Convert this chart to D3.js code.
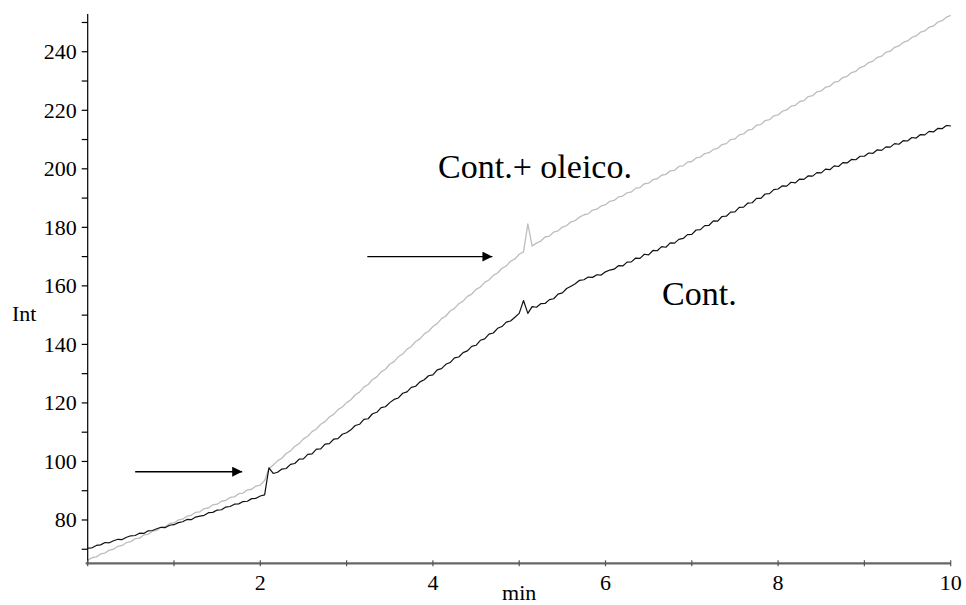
<!DOCTYPE html>
<html>
<head>
<meta charset="utf-8">
<script src="https://cdn.jsdelivr.net/npm/d3@7"></script>
<style>
  html, body { margin: 0; padding: 0; background: #fff; }
  svg { display: block; }
</style>
</head>
<body>
<svg id="chart" width="966" height="605"></svg>
<script>
// Signal traces sampled every 0.05 min from 0 to 10 min
const sampleStep = 0.05;

// "Cont." trace (black)
const cont = [
  70.4, 70.5, 71.3, 71.5, 72.3, 72.2, 72.9, 73.4, 73.3, 74.1, 74.6, 74.7, 75.5, 75.4, 76.3, 76.4, 77.0, 77.5, 77.4, 78.2, 78.4,
  79.1, 79.4, 80.2, 80.1, 81.0, 81.3, 81.6, 82.5, 82.6, 83.4, 83.5, 84.4, 84.6, 85.4, 85.5, 86.3, 86.4, 87.3, 87.4, 88.2, 88.6,
  97.8, 95.9,
  96.3, 97.4, 97.6, 99.0, 99.3, 100.8, 100.9, 102.4, 102.6, 104.2, 104.3, 105.9, 106.1, 107.6, 107.8, 109.3, 109.8,
  110.8, 112.3, 112.7, 114.4, 114.6, 116.3, 116.8, 118.4, 118.7, 120.1,
  121.2, 121.7, 123.3, 123.8, 125.3, 125.7, 127.2, 127.9, 129.3, 129.6,
  131.3, 131.7, 133.2, 133.8, 135.4, 135.7, 137.2, 137.8, 139.3, 139.7,
  141.4, 141.9, 143.5, 143.9, 145.5, 146.1, 147.6, 148.0, 149.3, 150.6,
  155.0, 150.6, 152.9, 152.7, 153.9, 154.0,
  155.3, 155.6, 157.2, 157.6, 159.1, 159.9, 160.7, 161.9, 162.1, 163.0, 162.9, 163.8, 163.7, 164.8,
  165.4, 165.7, 166.9, 166.8, 168.1, 168.2, 169.5, 169.4, 170.8, 170.6, 172.1, 172.0, 173.4, 173.2, 174.7, 174.6, 175.9,
  176.2, 177.5, 177.6, 179.1, 179.2, 180.6, 180.7, 182.2, 182.1, 183.7, 183.8, 185.2, 185.3, 186.8, 186.9, 188.3, 188.4, 189.9, 189.9, 191.4, 191.5, 192.9, 193.1,
  194.2, 194.1, 195.4, 195.2, 196.5, 196.4, 197.6, 197.5, 198.7, 198.6, 199.9, 199.7, 201.0, 200.8, 202.1, 202.0, 203.2, 203.1, 204.3, 204.3,
  205.4, 205.3, 206.5, 206.3, 207.5, 207.4, 208.6, 208.4, 209.6, 209.5, 210.7, 210.5, 211.7, 211.6, 212.8, 212.6, 213.8, 213.7, 214.8, 214.7
];

// "Cont.+ oleico." trace (grey)
const contOleico = [
  66.3, 67.1, 67.4, 68.4, 68.7, 69.7, 70.0, 71.0, 71.3, 72.3, 72.6, 73.6, 73.8, 74.9, 75.1, 76.2, 76.4, 77.5, 77.7, 78.8, 79.0,
  80.0, 80.3, 81.3, 81.6, 82.6, 82.8, 83.9, 84.1, 85.2, 85.4, 86.4, 86.7, 87.7, 87.9, 89.0, 89.2, 90.3, 90.5, 91.6, 91.9,
  93.5, 97.5, 98.8,
  100.2, 101.1, 102.7, 103.6, 105.2, 106.1, 107.7, 108.6, 110.2, 111.1, 112.7, 113.6, 115.2, 116.1, 117.7, 118.6, 120.1,
  121.1, 122.8, 123.7, 125.4, 126.3, 128.0, 128.9, 130.6, 131.5, 133.2, 134.1, 135.8, 136.7, 138.4, 139.3, 141.0, 141.9, 143.6, 144.5, 146.1,
  147.1, 148.8, 149.7, 151.4, 152.3, 153.9,
  154.8, 156.4, 157.2, 158.8, 159.6, 161.2, 162.0, 163.6, 164.4, 166.0, 166.8, 168.4, 169.2, 170.8, 171.6,
  181.2, 173.6, 174.6,
  175.3, 176.7, 177.0, 178.4, 178.8, 180.1, 180.6, 181.9, 182.3, 183.5,
  184.3, 184.6, 185.9, 186.2, 187.3, 187.7, 188.9, 189.2, 190.4, 190.7, 191.8,
  192.1, 193.4, 193.6, 194.9, 195.1, 196.3, 196.6, 197.8, 198.1, 199.3, 199.5, 200.8, 201.0, 202.3, 202.5, 203.7, 204.0, 205.2, 205.5, 206.6,
  207.0, 208.3, 208.6, 210.0, 210.2, 211.6, 211.9, 213.2, 213.5, 214.9, 215.1, 216.5, 216.8, 218.1, 218.4, 219.7, 220.1, 221.4, 221.7, 223.0,
  223.3, 224.7, 225.0, 226.3, 226.6, 227.9, 228.2, 229.6, 229.9,
  231.2, 231.6, 232.9, 233.3, 234.6, 235.1, 236.3, 236.8, 238.1, 238.5, 239.8, 240.2, 241.5, 242.0, 243.2, 243.7, 244.9, 245.4, 246.7, 247.1,
  248.4, 248.8, 250.1, 250.6, 251.8, 252.4
];

// Axis ticks
const xTicks = [0, 1, 2, 3, 4, 5, 6, 7, 8, 9, 10];
const xTickLabels = [2, 4, 6, 8, 10];
const yTicks = [70, 80, 90, 100, 110, 120, 130, 140, 150, 160, 170, 180, 190, 200, 210, 220, 230, 240, 250];
const yTickLabels = [80, 100, 120, 140, 160, 180, 200, 220, 240];

// Annotations in data units (minutes, intensity)
const arrows = [
  { x0: 0.55, x1: 1.79, y: 96.5 },
  { x0: 3.24, x1: 4.69, y: 170.0 }
];
const seriesLabels = [
  { text: "Cont.+ oleico.", x: 4.06, y: 196.8 },
  { text: "Cont.", x: 6.655, y: 153.5 }
];

const serif = "'Liberation Serif', 'Times New Roman', Times, 'DejaVu Serif', serif";

const svg = d3.select("#chart");
const margin = { left: 87.7, right: 966 - 950.7, top: 14, bottom: 605 - 563.3 };

const x = d3.scaleLinear().domain([0, 10]).range([margin.left, 966 - margin.right]);
const y = d3.scaleLinear().domain([65.2, 252.9]).range([605 - margin.bottom, margin.top]);

// Arrowhead marker
svg.append("defs").append("marker")
  .attr("id", "arrowhead")
  .attr("viewBox", "0 0 10 10")
  .attr("refX", 10).attr("refY", 5)
  .attr("markerWidth", 10).attr("markerHeight", 10)
  .attr("markerUnits", "userSpaceOnUse")
  .attr("orient", "auto")
  .append("path").attr("d", "M0,0 L10,5 L0,10 Z").attr("fill", "#000");

// Traces
const line = d3.line()
  .x((d, i) => x(i * sampleStep))
  .y(d => y(d));

svg.append("path").datum(contOleico)
  .attr("fill", "none").attr("stroke", "#bdbdbd").attr("stroke-width", 1.3)
  .attr("stroke-linejoin", "round")
  .attr("d", line);

svg.append("path").datum(cont)
  .attr("fill", "none").attr("stroke", "#111").attr("stroke-width", 1.2)
  .attr("stroke-linejoin", "round")
  .attr("d", line);

// Y axis
const yAxis = svg.append("g").attr("transform", `translate(${x(0)},0)`);
yAxis.append("line")
  .attr("x1", 0).attr("x2", 0)
  .attr("y1", y.range()[1]).attr("y2", y.range()[0])
  .attr("stroke", "#000").attr("stroke-width", 1.2);
yAxis.selectAll(".ytick").data(yTicks).enter().append("line")
  .attr("x1", -6).attr("x2", 0)
  .attr("y1", d => y(d)).attr("y2", d => y(d))
  .attr("stroke", "#000").attr("stroke-width", 1.2);
yAxis.selectAll(".ylabel").data(yTickLabels).enter().append("text")
  .attr("x", -11).attr("y", d => y(d)).attr("dy", "0.34em")
  .attr("text-anchor", "end")
  .attr("font-family", serif).attr("font-size", 22)
  .text(d => d);

// X axis
const xAxis = svg.append("g").attr("transform", `translate(0,${y.range()[0]})`);
xAxis.append("line")
  .attr("x1", x(0) - 2).attr("x2", x(10))
  .attr("y1", 0).attr("y2", 0)
  .attr("stroke", "#666").attr("stroke-width", 2.2);
xAxis.selectAll(".xtick").data(xTicks).enter().append("line")
  .attr("x1", d => x(d)).attr("x2", d => x(d))
  .attr("y1", -3).attr("y2", 3)
  .attr("stroke", "#555").attr("stroke-width", 1.2);
xAxis.selectAll(".xlabel").data(xTickLabels).enter().append("text")
  .attr("x", d => x(d)).attr("y", 27)
  .attr("text-anchor", "middle")
  .attr("font-family", serif).attr("font-size", 22)
  .text(d => d);

// Axis titles
svg.append("text").attr("x", x(5)).attr("y", 600)
  .attr("text-anchor", "middle")
  .attr("font-family", serif).attr("font-size", 22).text("min");
svg.append("text").attr("x", 12).attr("y", 321)
  .attr("font-family", serif).attr("font-size", 22).text("Int");

// Arrows
svg.selectAll(".arrow").data(arrows).enter().append("line")
  .attr("x1", d => x(d.x0)).attr("x2", d => x(d.x1))
  .attr("y1", d => y(d.y)).attr("y2", d => y(d.y))
  .attr("stroke", "#000").attr("stroke-width", 1.4)
  .attr("marker-end", "url(#arrowhead)");

// Series labels
svg.selectAll(".slabel").data(seriesLabels).enter().append("text")
  .attr("x", d => x(d.x)).attr("y", d => y(d.y))
  .attr("font-family", serif).attr("font-size", 34)
  .text(d => d.text);
</script>
</body>
</html>
